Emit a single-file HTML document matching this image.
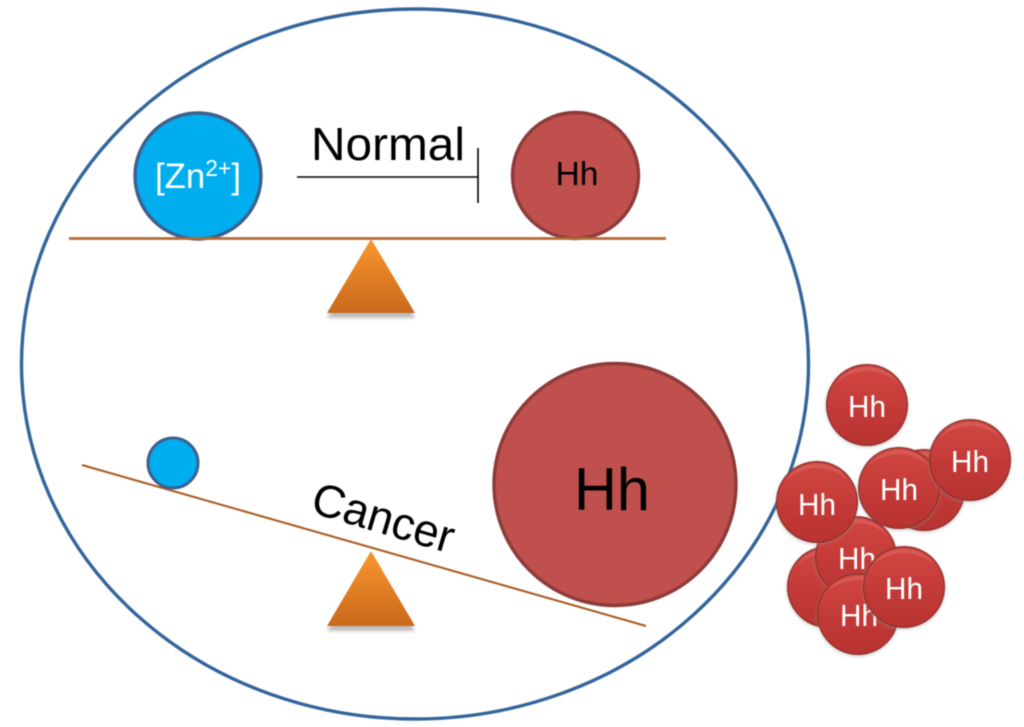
<!DOCTYPE html>
<html><head><meta charset="utf-8"><style>
html,body{margin:0;padding:0;background:#fff;width:1024px;height:727px;overflow:hidden}
svg{display:block;filter:blur(.5px)}
text{font-family:"Liberation Sans",sans-serif}
.h{font-size:31px;fill:#fff;text-anchor:middle}
</style></head><body>
<svg width="1024" height="727" viewBox="0 0 1024 727" xmlns="http://www.w3.org/2000/svg">
<defs>
<linearGradient id="tri" x1="0" y1="0" x2="0" y2="1"><stop offset="0" stop-color="#fb962f"/><stop offset="1" stop-color="#c9691b"/></linearGradient>
<linearGradient id="red" x1="0" y1="0" x2="0" y2="1"><stop offset="0" stop-color="#d04541"/><stop offset=".12" stop-color="#cf4441"/><stop offset=".55" stop-color="#c23a37"/><stop offset="1" stop-color="#b83331"/></linearGradient>
<filter id="sh" x="-20%" y="-20%" width="140%" height="140%"><feGaussianBlur stdDeviation="1.5"/></filter>
<g id="b">
<circle r="41.5" cy="1" fill="#999" opacity=".45" filter="url(#sh)"/>
<circle r="41" fill="#8a2f2c"/>
<circle r="39.8" fill="url(#red)"/>
<path d="M-31 -22A38 38 0 0 1 31 -22A46 46 0 0 0 -31 -22Z" fill="#e47a74" opacity=".4"/>
</g>
</defs>

<ellipse cx="415" cy="364" rx="393.5" ry="355" fill="#fff" stroke="#33659b" stroke-width="3.4"/>

<!-- Top balance -->
<circle cx="198" cy="176" r="63" fill="#00aeef" stroke="#3f5f8e" stroke-width="3.4"/>
<text x="198" y="188" font-size="35" fill="#fff" text-anchor="middle" textLength="86" lengthAdjust="spacingAndGlyphs">[Zn<tspan font-size="23" dy="-12">2+</tspan><tspan dy="12">]</tspan></text>
<text x="311" y="160" font-size="46" fill="#000" textLength="154" lengthAdjust="spacingAndGlyphs">Normal</text>
<line x1="297" y1="177" x2="478" y2="177" stroke="#000" stroke-width="1.6"/>
<line x1="478" y1="148" x2="478" y2="203" stroke="#000" stroke-width="1.6"/>
<circle cx="575.500" cy="175.500" r="63" fill="#c0504d" stroke="#8d3b39" stroke-width="3.4"/>
<text x="577" y="185" font-size="33" fill="#000" text-anchor="middle" textLength="43" lengthAdjust="spacingAndGlyphs">Hh</text>
<line x1="69" y1="238.500" x2="666" y2="238.500" stroke="#b06a35" stroke-width="2.8"/>
<polygon points="327,316 415,316 371,241" fill="#888" opacity=".55" filter="url(#sh)" transform="translate(0,2)"/>
<polygon points="327,313 415,313 371,239" fill="url(#tri)"/>

<!-- Bottom balance -->
<line x1="82" y1="465" x2="646" y2="626" stroke="#a85a1f" stroke-width="2"/>
<circle cx="173" cy="463" r="25" fill="#00aeef" stroke="#3f5f8e" stroke-width="3"/>
<circle cx="615" cy="484.500" r="121" fill="#c0504d" stroke="#8d3b39" stroke-width="3.4"/>
<text x="612" y="510" font-size="60" fill="#000" text-anchor="middle" textLength="76" lengthAdjust="spacingAndGlyphs">Hh</text>
<text transform="translate(309,512) rotate(16.500)" font-size="46" fill="#000" textLength="146" lengthAdjust="spacingAndGlyphs">Cancer</text>
<polygon points="327,629 415,629 371,554" fill="#888" opacity=".55" filter="url(#sh)" transform="translate(0,2)"/>
<polygon points="327,626 415,626 371,551" fill="url(#tri)"/>

<!-- Cluster -->
<use href="#b" x="867" y="405"/><text class="h" x="867" y="417" textLength="38" lengthAdjust="spacingAndGlyphs">Hh</text>
<use href="#b" x="924" y="490"/>
<use href="#b" x="899" y="488"/><text class="h" x="899" y="500" textLength="38" lengthAdjust="spacingAndGlyphs">Hh</text>
<use href="#b" x="970" y="460"/><text class="h" x="970" y="472" textLength="38" lengthAdjust="spacingAndGlyphs">Hh</text>
<use href="#b" x="828" y="587"/>
<use href="#b" x="856" y="557"/><text class="h" x="857" y="569" textLength="38" lengthAdjust="spacingAndGlyphs">Hh</text>
<use href="#b" x="817" y="502"/><text class="h" x="817" y="515" textLength="38" lengthAdjust="spacingAndGlyphs">Hh</text>
<use href="#b" x="858" y="614"/><text class="h" x="859" y="626" textLength="38" lengthAdjust="spacingAndGlyphs">Hh</text>
<use href="#b" x="904" y="587"/><text class="h" x="904" y="599" textLength="38" lengthAdjust="spacingAndGlyphs">Hh</text>
</svg>
</body></html>
